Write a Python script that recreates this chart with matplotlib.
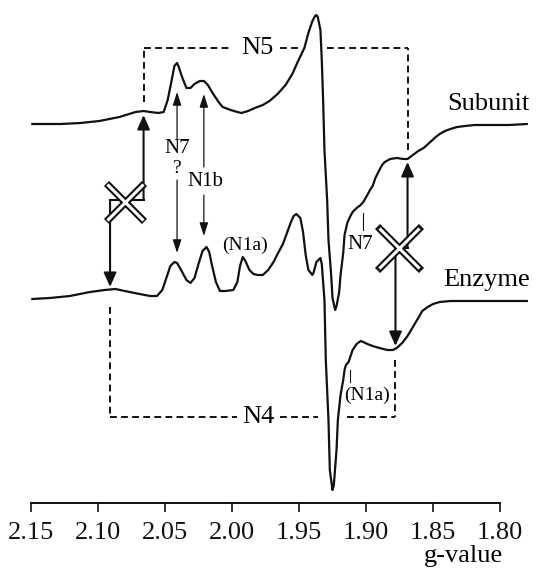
import matplotlib
matplotlib.use("Agg")
import matplotlib.pyplot as plt

plt.rcParams['font.family'] = ['Liberation Serif', 'DejaVu Serif']

# EPR spectra (derivative), g-value vs. amplitude (arbitrary units)
sub_g = [2.149, 2.128, 2.113, 2.099, 2.084, 2.072, 2.066, 2.061, 2.055, 2.051,
         2.048, 2.045, 2.043, 2.041, 2.040, 2.037, 2.034, 2.031, 2.028, 2.024,
         2.021, 2.018, 2.014, 2.010, 2.007, 2.001, 1.996, 1.993, 1.988, 1.983,
         1.977, 1.972, 1.966, 1.960, 1.955, 1.951, 1.946, 1.943, 1.940, 1.938,
         1.937, 1.936, 1.934, 1.933, 1.932, 1.931, 1.929, 1.928, 1.926, 1.925,
         1.923, 1.922, 1.920, 1.919, 1.917, 1.916, 1.914, 1.912, 1.910, 1.907,
         1.904, 1.902, 1.899, 1.897, 1.895, 1.893, 1.890, 1.888, 1.886, 1.882,
         1.877, 1.872, 1.869, 1.866, 1.861, 1.857, 1.852, 1.848, 1.845, 1.841,
         1.837, 1.832, 1.826, 1.819, 1.807, 1.793, 1.780]
sub_amp = [1, 1, 2, 4, 8, 13, 14, 13, 12, 13,
           25, 45, 59, 62, 59, 47, 37, 37, 41, 44,
           44, 40, 31, 23, 18, 15, 13, 12, 14, 17,
           20, 24, 31, 40, 51, 63, 77, 92, 104, 109,
           110, 108, 95, 65, 25, -25, -75, -115, -150, -173,
           -185, -181, -167, -150, -128, -110, -98, -92, -87, -83,
           -80, -77, -70, -65, -61, -53, -45, -40, -37, -34,
           -33, -34, -34, -31, -26, -23, -17, -12, -9, -6,
           -4, -2, -1, 0, 0, 0, 1]

enz_g = [2.149, 2.136, 2.121, 2.106, 2.095, 2.087, 2.080, 2.069, 2.061, 2.056,
         2.052, 2.049, 2.046, 2.043, 2.041, 2.038, 2.034, 2.031, 2.028, 2.025,
         2.022, 2.019, 2.017, 2.015, 2.012, 2.009, 2.005, 1.999, 1.996, 1.994,
         1.992, 1.990, 1.987, 1.984, 1.981, 1.977, 1.973, 1.969, 1.966, 1.962,
         1.959, 1.956, 1.954, 1.952, 1.949, 1.947, 1.945, 1.943, 1.940, 1.939,
         1.937, 1.934, 1.933, 1.931, 1.930, 1.928, 1.927, 1.925, 1.924, 1.922,
         1.921, 1.919, 1.917, 1.916, 1.915, 1.913, 1.912, 1.910, 1.907, 1.904,
         1.902, 1.899, 1.895, 1.890, 1.884, 1.880, 1.877, 1.873, 1.869, 1.865,
         1.861, 1.858, 1.854, 1.850, 1.845, 1.837, 1.826, 1.807, 1.780]
enz_amp = [2, 3, 5, 9, 11, 12, 10, 7, 5, 5,
           11, 23, 35, 39, 38, 31, 21, 18, 23, 37,
           50, 54, 49, 36, 19, 10, 10, 11, 19, 35,
           44, 40, 31, 27, 26, 26, 31, 39, 47, 57,
           68, 79, 85, 87, 83, 69, 46, 31, 26, 29,
           39, 43, 37, 1, -59, -119, -169, -189, -184, -149,
           -119, -94, -79, -69, -64, -61, -57, -49, -43, -40,
           -41, -43, -45, -47, -49, -49, -47, -42, -35, -26,
           -17, -10, -6, -3, -1, 0, 0, 0, 0]

sub_offset = 378
enz_offset = 202

ticks = [2.15, 2.10, 2.05, 2.00, 1.95, 1.90, 1.85, 1.80]
tick_labels = ['2.15', '2.10', '2.05', '2.00', '1.95', '1.90', '1.85', '1.80']

# dashed boxes: N5 (above) and N4 (below), with gaps for text and trace crossings
n5_left, n5_right, n5_top = 2.066, 1.869, 455
n5_left_bottom, n5_right_bottom = 401, 353
n5_gaps = [(2.001, 1.964), (1.949, 1.929)]
n4_left, n4_right, n4_bottom = 2.091, 1.878, 86
n4_left_top, n4_right_top = 196, 143
n4_gaps = [(1.996, 1.964), (1.936, 1.914)]

ink = '#111111'

fig = plt.figure(figsize=(5.5, 5.73), dpi=100)
ax = fig.add_axes([31 / 550, 70 / 573, 502.5 / 550, 503 / 573])
ax.set_xlim(2.15, 1.775)
ax.set_ylim(0, 503)

ax.plot(sub_g, [a + sub_offset for a in sub_amp], color=ink, lw=1.6, zorder=3)
ax.plot(enz_g, [a + enz_offset for a in enz_amp], color=ink, lw=1.6, zorder=3)

ax.text(1.778, 399, 'Subunit', ha='right', va='center', fontsize=19)
ax.text(1.778, 223, 'Enzyme', ha='right', va='center', fontsize=19)

dash = dict(color=ink, lw=1.4, linestyle=(0, (3.5, 2.2)), zorder=2)


def hline_with_gaps(x0, x1, y, gaps):
    pts = [x0]
    for a, b in gaps:
        pts += [a, b]
    pts.append(x1)
    for i in range(0, len(pts), 2):
        ax.plot([pts[i], pts[i + 1]], [y, y], **dash)


hline_with_gaps(n5_left, n5_right, n5_top, n5_gaps)
ax.plot([n5_left, n5_left], [n5_left_bottom, n5_top], **dash)
ax.plot([n5_right, n5_right], [n5_right_bottom, n5_top], **dash)
ax.text(1.981, n5_top, 'N5', ha='center', va='center', fontsize=19)

hline_with_gaps(n4_left, n4_right, n4_bottom, n4_gaps)
ax.plot([n4_left, n4_left], [n4_left_top, n4_bottom], **dash)
ax.plot([n4_right, n4_right], [n4_right_top, n4_bottom], **dash)
ax.text(1.980, n4_bottom, 'N4', ha='center', va='center', fontsize=19)


def arrow(x, y_from, y_to, big=True):
    if big:
        style = '-|>,head_length=0.43,head_width=0.19'
        lw = 1.5
    else:
        style = '-|>,head_length=0.40,head_width=0.13'
        lw = 0.9
    ax.annotate('', xy=(x, y_to), xytext=(x, y_from),
                arrowprops=dict(arrowstyle=style, color=ink, lw=lw,
                                mutation_scale=20, shrinkA=0, shrinkB=0),
                zorder=4)


# left pair: subunit (2.066) vs enzyme (2.091), crossed out
arrow(2.066, 303, 388)
arrow(2.091, 303, 216)
ax.plot([2.091, 2.066], [303, 303], color=ink, lw=1.5, zorder=4)
# right pair: subunit (1.869) vs enzyme (1.878), crossed out
arrow(1.869, 255, 341)
arrow(1.878, 255, 157)
ax.plot([1.878, 1.869], [255, 255], color=ink, lw=1.5, zorder=4)

for cx, cy, s in [(2.080, 301, 28), (1.875, 255, 31)]:
    ax.plot(cx, cy, marker='x', ms=s, mew=5.2, color=ink, zorder=5)
    ax.plot(cx, cy, marker='x', ms=s - 2.2, mew=2.2, color='white', zorder=6)

# N7 and N1b arrows
arrow(2.041, 364, 411, big=False)
arrow(2.041, 323, 250, big=False)
ax.text(2.041, 355, 'N7', ha='center', va='center', fontsize=15)
ax.text(2.041, 335, '?', ha='center', va='center', fontsize=14)
arrow(2.021, 336, 409, big=False)
arrow(2.021, 308, 267, big=False)
ax.text(2.020, 322, 'N1b', ha='center', va='center', fontsize=15)

ax.text(1.990, 258, '(N1a)', ha='center', va='center', fontsize=14)

ax.plot([1.902, 1.902], [273, 290], color=ink, lw=0.8)
ax.text(1.904, 259, 'N7', ha='center', va='center', fontsize=15)
ax.plot([1.912, 1.912], [121, 133], color=ink, lw=0.8)
ax.text(1.899, 108, '(N1a)', ha='center', va='center', fontsize=14)

# axis: only the bottom spine
for side in ['left', 'right', 'top']:
    ax.spines[side].set_visible(False)
ax.spines['bottom'].set_bounds(2.15, 1.80)
ax.spines['bottom'].set_linewidth(1.4)
ax.spines['bottom'].set_color(ink)
ax.set_yticks([])
ax.set_xticks(ticks)
ax.set_xticklabels(tick_labels)
ax.tick_params(axis='x', direction='out', length=6.5, width=1.2,
               pad=7, labelsize=19, colors=ink)
ax.text(1.798, -0.106, 'g-value', transform=ax.get_xaxis_transform(),
        ha='right', va='center', fontsize=19)

fig.savefig('out.png', dpi=100, facecolor='white')
